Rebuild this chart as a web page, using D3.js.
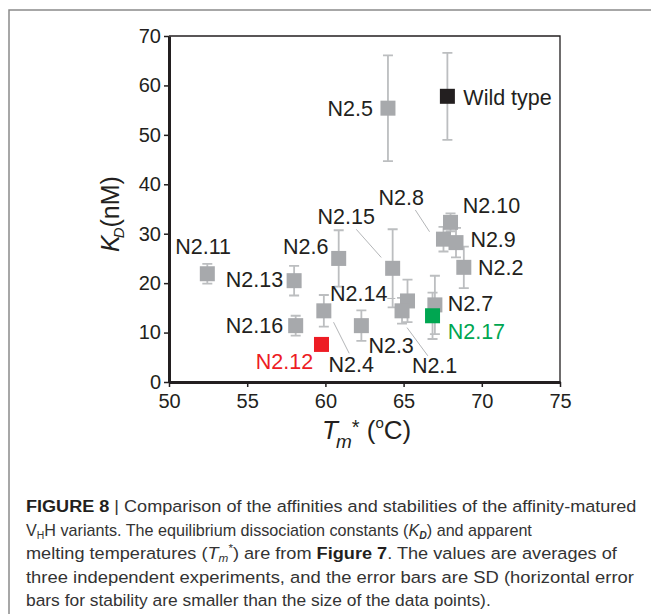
<!DOCTYPE html>
<html>
<head>
<meta charset="utf-8">
<script src="https://cdn.jsdelivr.net/npm/d3@7.9.0/dist/d3.min.js"></script>
<style>
  body { margin: 0; background: #fff; }
  svg { display: block; font-family: "Liberation Sans", Arial, sans-serif; }
</style>
</head>
<body>
<svg id="chart" width="651" height="614"></svg>
<script>
// variants, apparent Tm* (°C), KD (nM) and SD of KD
const names = ['Wild type', 'N2.5', 'N2.11', 'N2.13', 'N2.16', 'N2.6', 'N2.4', 'N2.3', 'N2.15',
  'N2.14', 'N2.1', 'N2.7', 'N2.8', 'N2.10', 'N2.9', 'N2.2', 'N2.12', 'N2.17'];
const tm = [67.8, 64.0, 52.45, 58.0, 58.1, 60.85, 59.9, 62.3, 64.3,
  65.25, 64.9, 67.0, 67.55, 68.0, 68.35, 68.85, 59.75, 66.85];
const kd = [57.8, 55.4, 21.9, 20.5, 11.4, 25.0, 14.4, 11.4, 23.0,
  16.4, 14.4, 15.6, 28.9, 32.3, 28.2, 23.2, 7.6, 13.4];
const kdSd = [8.8, 10.7, 2.0, 3.0, 2.0, 5.7, 3.2, 3.1, 7.9,
  4.3, 2.6, 5.9, 2.5, 1.8, 3.0, 4.2, 0, 4.7];
const groups = ['wt', 'v', 'v', 'v', 'v', 'v', 'v', 'v', 'v',
  'v', 'v', 'v', 'v', 'v', 'v', 'v', 'best', 'stable'];

const xTicks = [50, 55, 60, 65, 70, 75];
const yTicks = [0, 10, 20, 30, 40, 50, 60, 70];

// label anchors in data units: [name, tm, kd, anchor]
const labels = [
  ['Wild type', 68.82, 56.1, 'start'], ['N2.5', 63.04, 53.8, 'end'],
  ['N2.8', 63.4, 35.8, 'start'], ['N2.10', 68.78, 34.1, 'start'],
  ['N2.15', 59.5, 32.0, 'start'], ['N2.9', 69.27, 27.3, 'start'],
  ['N2.2', 69.76, 21.7, 'start'], ['N2.6', 60.2, 25.85, 'end'],
  ['N2.11', 50.4, 25.85, 'start'], ['N2.13', 57.3, 19.2, 'end'],
  ['N2.16', 57.3, 9.85, 'end'], ['N2.12', 59.22, 2.57, 'end'],
  ['N2.14', 60.3, 16.4, 'start'], ['N2.4', 60.2, 1.96, 'start'],
  ['N2.3', 62.75, 5.8, 'start'], ['N2.1', 65.53, 1.74, 'start'],
  ['N2.7', 67.82, 14.4, 'start'], ['N2.17', 67.82, 8.6, 'start']
];
// leader lines: [tm1, kd1, tm2, kd2]
const leaders = [
  [65.75, 34.8, 66.66, 30.4], [61.97, 30.9, 63.57, 25.2],
  [60.52, 12.1, 61.52, 5.8], [65.22, 11.0, 66.55, 5.3],
  [63.96, 16.9, 64.47, 16.9]
];

// caption runs: [style, text]
const captionLines = [
  [['b', 'FIGURE 8'], ['n', ' | Comparison of the affinities and stabilities of the affinity-matured']],
  [['n', 'V'], ['sub', 'H'], ['n', 'H variants. The equilibrium dissociation constants ('], ['i', 'K'], ['bisub', 'D'], ['n', ') and apparent']],
  [['n', 'melting temperatures ('], ['i', 'T'], ['isub', 'm'], ['sup', '*'], ['n', ') are from '], ['b', 'Figure 7'], ['n', '. The values are averages of']],
  [['n', 'three independent experiments, and the error bars are SD (horizontal error']],
  [['n', 'bars for stability are smaller than the size of the data points).']]
];
const captionWidths = [611, 506, 591, 608, 465];

const colorOf = { wt: '#231f20', v: '#a7a9ac', best: '#ed1c24', stable: '#00a651' };
const labelColor = { 'N2.12': '#ed1c24', 'N2.17': '#00a651' };
const ink = '#231f20';

const svg = d3.select('#chart');

// outer figure frame (top and left edge only)
svg.append('path').attr('d', 'M9,614V10H651').attr('fill', 'none')
  .attr('stroke', '#8a8a8a').attr('stroke-width', 1.5);

const margin = { left: 169, right: 560, top: 36, bottom: 382 };
const x = d3.scaleLinear().domain([50, 75]).range([margin.left, margin.right]);
const y = d3.scaleLinear().domain([0, 70]).range([margin.bottom, margin.top]);

// thin top/right frame
svg.append('path')
  .attr('d', `M${x(50)},${y(70)}H${x(75)}V${y(0)}`)
  .attr('fill', 'none').attr('stroke', ink).attr('stroke-width', 1.3);

// axes
const xAxis = svg.append('g').attr('transform', `translate(0,${y(0)})`)
  .call(d3.axisBottom(x).tickValues(xTicks).tickSize(5).tickSizeOuter(0).tickPadding(6));
const yAxis = svg.append('g').attr('transform', `translate(${x(50)},0)`)
  .call(d3.axisLeft(y).tickValues(yTicks).tickSize(5).tickSizeOuter(0).tickPadding(3));
[xAxis, yAxis].forEach(g => {
  g.select('.domain').attr('stroke', ink).attr('stroke-width', 3);
  g.selectAll('.tick line').attr('stroke', ink).attr('stroke-width', 1.5);
  g.selectAll('.tick text').attr('fill', ink).style('font-size', '20px')
    .style('font-family', '"Liberation Sans", Arial, sans-serif');
});
xAxis.selectAll('.tick text').attr('dy', '0.75em');

const pts = names.map((n, i) => ({ name: n, tm: tm[i], kd: kd[i], sd: kdSd[i], group: groups[i] }));

// leader lines
svg.append('g').selectAll('line').data(leaders).join('line')
  .attr('x1', d => x(d[0])).attr('y1', d => y(d[1]))
  .attr('x2', d => x(d[2])).attr('y2', d => y(d[3]))
  .attr('stroke', '#b4b6b8').attr('stroke-width', 1);

// error bars
const eb = svg.append('g').attr('stroke', '#bcbec0').attr('stroke-width', 1.8).attr('fill', 'none');
pts.filter(d => d.sd > 0).forEach(d => {
  const cx = x(d.tm), y1 = y(d.kd + d.sd), y2 = y(d.kd - d.sd);
  eb.append('path').attr('d', `M${cx},${y1}V${y2}M${cx - 5},${y1}H${cx + 5}M${cx - 5},${y2}H${cx + 5}`);
});

// squares
const sq = 15;
svg.append('g').selectAll('rect').data(pts).join('rect')
  .attr('x', d => x(d.tm) - sq / 2).attr('y', d => y(d.kd) - sq / 2)
  .attr('width', sq).attr('height', sq)
  .attr('fill', d => colorOf[d.group]);

// point labels
svg.append('g').selectAll('text').data(labels).join('text')
  .attr('x', d => x(d[1])).attr('y', d => y(d[2]))
  .attr('text-anchor', d => d[3])
  .attr('fill', d => labelColor[d[0]] || ink)
  .style('font-size', '21.5px')
  .text(d => d[0]);

// x axis title: Tm* (°C)
const xt = svg.append('text').attr('x', 322).attr('y', 439).attr('fill', ink).style('font-size', '26px');
xt.append('tspan').style('font-style', 'italic').text('T');
xt.append('tspan').style('font-style', 'italic').style('font-size', '19px').attr('dx', -2).attr('dy', 9).text('m');
xt.append('tspan').style('font-size', '20px').attr('dx', 0).attr('dy', -14).text('*');
xt.append('tspan').attr('dy', 5).text(' (');
xt.append('tspan').style('font-size', '15px').attr('dy', -11).text('o');
xt.append('tspan').attr('dy', 11).text('C)');

// y axis title: KD (nM)
const yt = svg.append('text').attr('transform', 'translate(119,252) rotate(-90)')
  .attr('fill', ink).style('font-size', '25px');
yt.append('tspan').style('font-style', 'italic').text('K');
yt.append('tspan').style('font-style', 'italic').style('font-size', '15px').attr('dx', -3).attr('dy', 5).text('D');
yt.append('tspan').attr('dy', -5).text('(nM)');

// caption
const shift = { sub: 3, bisub: 3, isub: 3, sup: -7 };
const cap = svg.append('g').attr('fill', '#333');
captionLines.forEach((line, i) => {
  const t = cap.append('text').attr('x', 0).attr('y', 0).style('font-size', '17px');
  let offset = 0;
  line.forEach(([kind, s]) => {
    const target = shift[kind] || 0;
    const ts = t.append('tspan').text(s).attr('dy', target - offset);
    offset = target;
    if (kind === 'b') ts.style('font-weight', 'bold').attr('fill', ink);
    if (kind === 'i') ts.style('font-style', 'italic');
    if (kind === 'sub') ts.style('font-size', '11px');
    if (kind === 'bisub') ts.style('font-size', '11px').style('font-style', 'italic').style('font-weight', 'bold');
    if (kind === 'isub') ts.style('font-size', '11px').style('font-style', 'italic');
    if (kind === 'sup') ts.style('font-size', '11px');
  });
  const w = t.node().getComputedTextLength();
  t.attr('transform', `translate(26,${512 + i * 23.5}) scale(${captionWidths[i] / w},1)`);
});
</script>
</body>
</html>
